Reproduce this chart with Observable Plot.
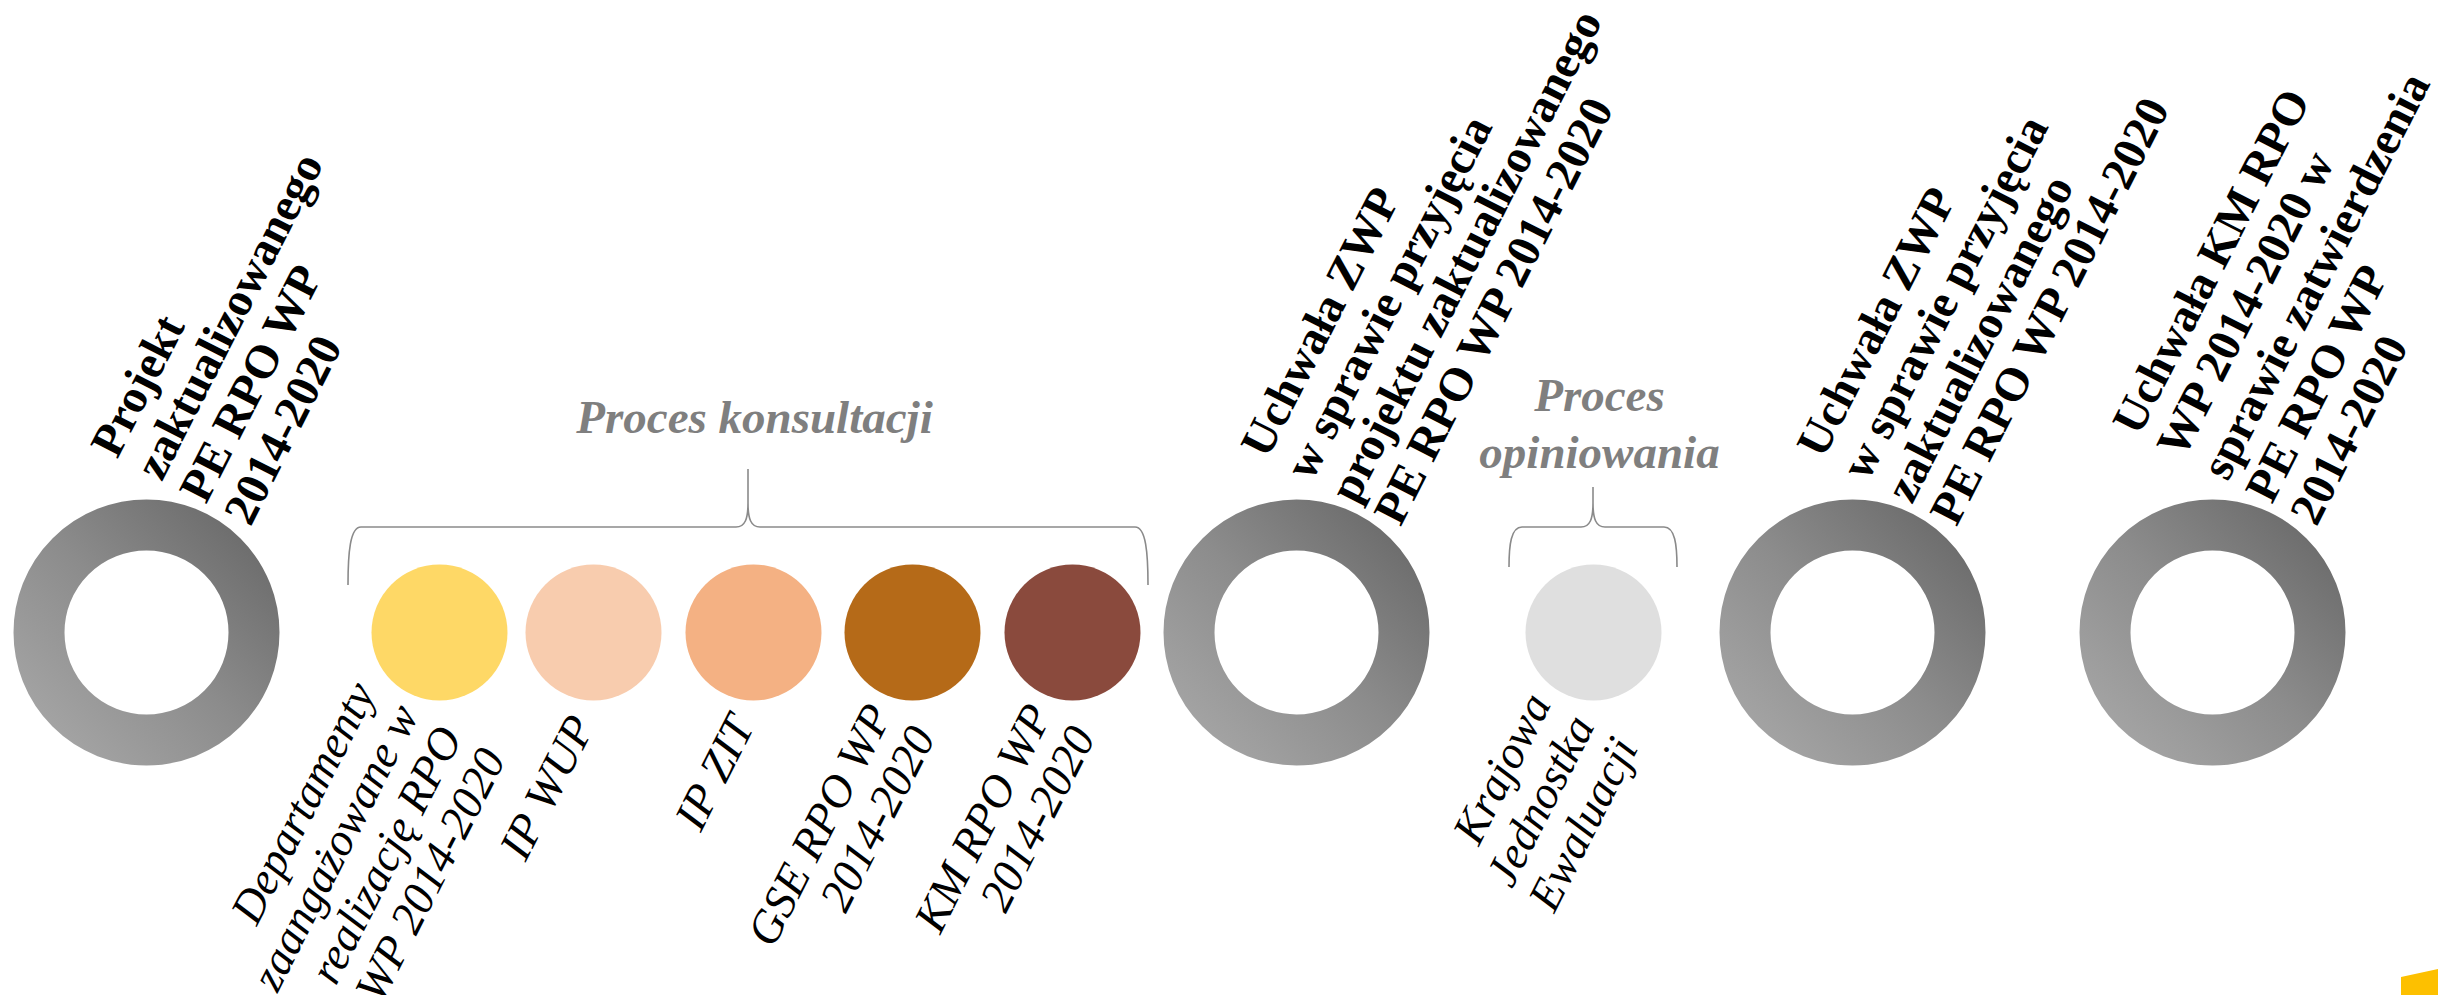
<!DOCTYPE html>
<html>
<head>
<meta charset="utf-8">
<script src="https://cdn.jsdelivr.net/npm/d3@7"></script>
<script src="https://cdn.jsdelivr.net/npm/@observablehq/plot@0.6"></script>
<style>
  html, body { margin: 0; padding: 0; background: #ffffff; overflow: hidden; }
  #chart svg { display: block; }
</style>
</head>
<body>
<div id="chart"></div>
<script>
// ---- Milestones (grey rings) ----
const milestoneX = [146, 1296, 1852, 2212];
const milestoneLabels = [
  "Projekt\nzaktualizowanego\nPE RPO WP\n2014-2020",
  "Uchwała ZWP\nw sprawie przyjęcia\nprojektu zaktualizowanego\nPE RPO WP 2014-2020",
  "Uchwała ZWP\nw sprawie przyjęcia\nzaktualizowanego\nPE RPO WP 2014-2020",
  "Uchwała KM RPO\nWP 2014-2020 w\nsprawie zatwierdzenia\nPE RPO WP\n2014-2020"
];

// ---- Participants (coloured discs) ----
const participantX = [439, 593, 753, 912, 1072, 1593];
const participantColors = ["#FED866", "#F8CCAE", "#F4B183", "#B56A18", "#8A4A3D", "#DFDFDF"];
const participantLabels = [
  "Departamenty\nzaangażowane w\nrealizację RPO\nWP 2014-2020",
  "IP WUP",
  "IP ZIT",
  "GSE RPO WP\n2014-2020",
  "KM RPO WP\n2014-2020",
  "Krajowa\nJednostka\nEwaluacji"
];

// ---- Process groups (braces) ----
const groupNames = ["Proces konsultacji", "Proces\nopiniowania"];
const groupStart = [348, 1509];
const groupEnd = [1148, 1677];
const groupTip = [748, 1593];
const groupTipY = [469, 487];
const groupFootY = [585, 567];
const groupLabelY = [432, 467];

// ---- Timeline row / brace level ----
const rowY = 632;
const braceY = 527;

// ---- Corner accent ----
const accentX = [2401, 2438];
const accentTop = [977, 969];
const accentBottom = [995, 995];

// Build tables
const milestones = milestoneX.map((x, i) => ({x, y: rowY, label: milestoneLabels[i]}));
const participants = participantX.map((x, i) => ({x, y: rowY, color: participantColors[i], label: participantLabels[i]}));
const groups = groupNames.map((name, i) => ({
  name, start: groupStart[i], end: groupEnd[i], tip: groupTip[i],
  tipY: groupTipY[i], footY: groupFootY[i], labelY: groupLabelY[i]
}));
const accent = accentX.map((x, i) => ({x, top: accentTop[i], bottom: accentBottom[i]}));

// Brace mark drawn with the plot's scales
function braceMark(data) {
  return (index, scales) => {
    const {x, y} = scales;
    const g = d3.create("svg:g")
      .attr("fill", "none")
      .attr("stroke", "#8a8a8a")
      .attr("stroke-width", 1.6);
    for (const d of data) {
      const x0 = x(d.start), x1 = x(d.end), xm = x(d.tip);
      const yh = y(braceY), yt = y(d.tipY), yf = y(d.footY);
      const p = d3.path();
      p.moveTo(x0, yf);
      p.bezierCurveTo(x0, yh + (yf - yh) * 0.45, x0 + 2, yh, x0 + 13, yh);
      p.lineTo(xm - 12, yh);
      p.bezierCurveTo(xm - 3, yh, xm, yh - 8, xm, yh - 24);
      p.lineTo(xm, yt);
      p.moveTo(xm, yh - 24);
      p.bezierCurveTo(xm, yh - 8, xm + 3, yh, xm + 12, yh);
      p.lineTo(x1 - 13, yh);
      p.bezierCurveTo(x1 - 2, yh, x1, yh + (yf - yh) * 0.45, x1, yf);
      g.append("path").attr("d", p.toString());
    }
    return g.node();
  };
}

const serif = "'Liberation Serif', 'DejaVu Serif', serif";

const chart = Plot.plot({
  width: 2438,
  height: 995,
  margin: 0,
  x: {type: "linear", domain: [0, 2438], range: [0, 2438], axis: null},
  y: {type: "linear", domain: [0, 995], range: [0, 995], axis: null},
  style: {background: "#ffffff"},
  marks: [
    // grey gradient rings
    Plot.dot(milestones, {x: "x", y: "y", r: 107.5, fill: "none", stroke: "url(#ringGrad)", strokeWidth: 51}),
    // coloured discs
    Plot.dot(participants, {x: "x", y: "y", r: 68, fill: "color", stroke: "none"}),
    // braces
    braceMark(groups),
    // group titles
    Plot.text(groups, {
      x: "tip", y: "labelY", text: "name", dx: 6,
      textAnchor: "middle", lineAnchor: "bottom", lineHeight: 1.2,
      fontSize: 47, fontWeight: "bold", fontStyle: "italic", fontFamily: serif, fill: "#7f7f7f"
    }),
    // milestone labels (rotated, above rings)
    Plot.text(milestones, {
      x: "x", y: "y", text: "label", rotate: -63,
      textAnchor: "start", lineAnchor: "bottom", lineHeight: 1.06,
      dx: 104, dy: -105,
      fontSize: 47, fontWeight: "bold", fontFamily: serif, fill: "#000000"
    }),
    // participant labels (rotated, below discs)
    Plot.text(participants, {
      x: "x", y: "y", text: "label", rotate: -63,
      textAnchor: "end", lineAnchor: "middle", lineHeight: 1.06,
      dx: -12, dy: 86,
      fontSize: 46, fontStyle: "italic", fontFamily: serif, fill: "#000000"
    }),
    // corner accent
    Plot.areaY(accent, {x: "x", y1: "top", y2: "bottom", fill: "#FDC000"})
  ]
});

// gradient definition for the rings
const svg = d3.select(chart);
const defs = svg.insert("defs", ":first-child");
const grad = defs.append("linearGradient")
  .attr("id", "ringGrad")
  .attr("x1", 0).attr("y1", 1).attr("x2", 1).attr("y2", 0);
grad.append("stop").attr("offset", "0%").attr("stop-color", "#a6a6a6");
grad.append("stop").attr("offset", "50%").attr("stop-color", "#8c8c8c");
grad.append("stop").attr("offset", "100%").attr("stop-color", "#6a6a6a");

document.getElementById("chart").appendChild(chart);
</script>
</body>
</html>
